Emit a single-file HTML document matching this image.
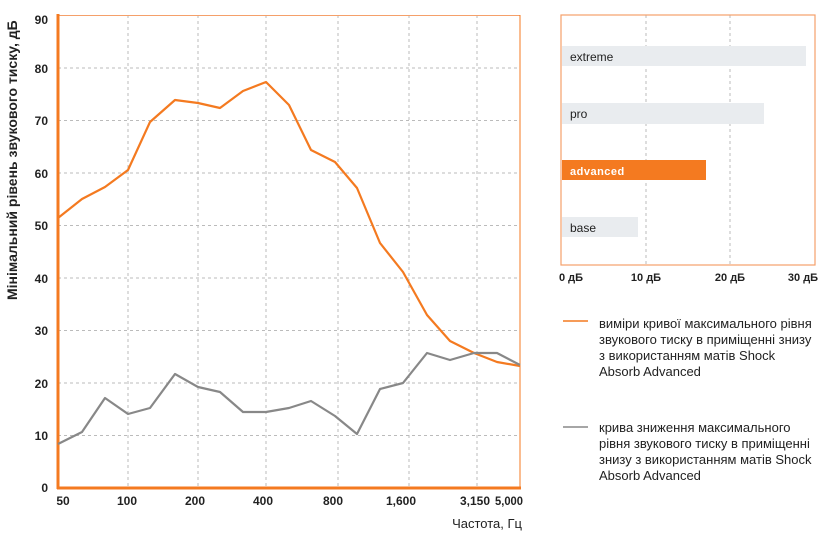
<!DOCTYPE html>
<html><head><meta charset="utf-8"><style>
html,body{margin:0;padding:0;background:#fff;}
svg{display:block;font-family:"Liberation Sans",sans-serif;}
</style></head><body>
<svg width="832" height="539" viewBox="0 0 832 539">
<g stroke="#bbb" stroke-dasharray="3,3" stroke-width="1">
<line x1="58" y1="435.5" x2="520" y2="435.5"/><line x1="58" y1="383" x2="520" y2="383"/>
<line x1="58" y1="330.5" x2="520" y2="330.5"/><line x1="58" y1="278" x2="520" y2="278"/>
<line x1="58" y1="225.5" x2="520" y2="225.5"/><line x1="58" y1="173" x2="520" y2="173"/>
<line x1="58" y1="120.5" x2="520" y2="120.5"/><line x1="58" y1="68" x2="520" y2="68"/>
<line x1="128" y1="15" x2="128" y2="488"/><line x1="198" y1="15" x2="198" y2="488"/>
<line x1="266" y1="15" x2="266" y2="488"/><line x1="338" y1="15" x2="338" y2="488"/>
<line x1="409" y1="15" x2="409" y2="488"/><line x1="477" y1="15" x2="477" y2="488"/>
<line x1="646" y1="15" x2="646" y2="265"/><line x1="730" y1="15" x2="730" y2="265"/>
</g>
<line x1="58" y1="15.5" x2="520" y2="15.5" stroke="#f5a06a" stroke-width="1"/>
<line x1="520" y1="15" x2="520" y2="488" stroke="#f47a20" stroke-width="1"/>
<line x1="58" y1="14" x2="58" y2="489" stroke="#f47a20" stroke-width="3"/>
<line x1="57" y1="488" x2="521" y2="488" stroke="#f47a20" stroke-width="3"/>
<polyline fill="none" stroke="#f47a20" stroke-width="2.2" stroke-linejoin="round" points="58,218 82,199 105,187 128,170 150,122 175,100 198,103 220,108 243,91 266,82 289,105 311,150 335,162 357,188 380,243 403,272 427,315 450,341 474,353 497,362 520,366"/>
<polyline fill="none" stroke="#888" stroke-width="2.2" stroke-linejoin="round" points="58,444 82,432 105,398 128,414 150,408 175,374 198,387 220,392 243,412 266,412 289,408 311,401 335,416 357,434 380,389 403,383 427,353 450,360 474,353 497,353 520,365"/>
<g font-size="12" font-weight="bold" fill="#222" text-anchor="end">
<text x="48" y="24">90</text><text x="48" y="73">80</text><text x="48" y="125">70</text>
<text x="48" y="178">60</text><text x="48" y="230">50</text><text x="48" y="283">40</text>
<text x="48" y="335">30</text><text x="48" y="388">20</text><text x="48" y="440">10</text>
<text x="48" y="492">0</text>
</g>
<g font-size="12" font-weight="bold" fill="#222" text-anchor="middle">
<text x="63" y="505">50</text><text x="127" y="505">100</text><text x="195" y="505">200</text>
<text x="263" y="505">400</text><text x="333" y="505">800</text><text x="401" y="505">1,600</text>
<text x="475" y="505" textLength="30" lengthAdjust="spacingAndGlyphs">3,150</text><text x="509" y="505" textLength="28" lengthAdjust="spacingAndGlyphs">5,000</text>
</g>
<text x="522" y="528" font-size="13" fill="#222" text-anchor="end">Частота, Гц</text>
<text transform="translate(17,300) rotate(-90)" font-size="14" font-weight="bold" fill="#222">Мінімальний рівень звукового тиску, дБ</text>
<rect x="561" y="15" width="254" height="250" fill="none" stroke="#f5a06a" stroke-width="1.2"/>
<rect x="562" y="46" width="244" height="20" fill="#e9ecef"/>
<rect x="562" y="103" width="202" height="21" fill="#e9ecef"/>
<rect x="562" y="160" width="144" height="20" fill="#f47a20"/>
<rect x="562" y="217" width="76" height="20" fill="#e9ecef"/>
<g font-size="12" fill="#222">
<text x="570" y="61">extreme</text><text x="570" y="118">pro</text>
<text x="570" y="232">base</text>
</g>
<text x="570" y="175" font-size="11" font-weight="bold" fill="#fff" letter-spacing="0.5">advanced</text>
<g font-size="11" font-weight="bold" fill="#222" text-anchor="middle">
<text x="571" y="281">0 дБ</text><text x="646" y="281">10 дБ</text>
<text x="730" y="281">20 дБ</text><text x="803" y="281">30 дБ</text>
</g>
<line x1="563" y1="321" x2="588" y2="321" stroke="#f47a20" stroke-width="1.5"/>
<line x1="563" y1="427" x2="588" y2="427" stroke="#888" stroke-width="1.5"/>
<g font-size="13" fill="#222">
<text x="599" y="328">виміри кривої максимального рівня</text>
<text x="599" y="344">звукового тиску в приміщенні знизу</text>
<text x="599" y="360">з використанням матів Shock</text>
<text x="599" y="376">Absorb Advanced</text>
<text x="599" y="432">крива зниження максимального</text>
<text x="599" y="448">рівня звукового тиску в приміщенні</text>
<text x="599" y="464">знизу з використанням матів Shock</text>
<text x="599" y="480">Absorb Advanced</text>
</g>
</svg>
</body></html>
